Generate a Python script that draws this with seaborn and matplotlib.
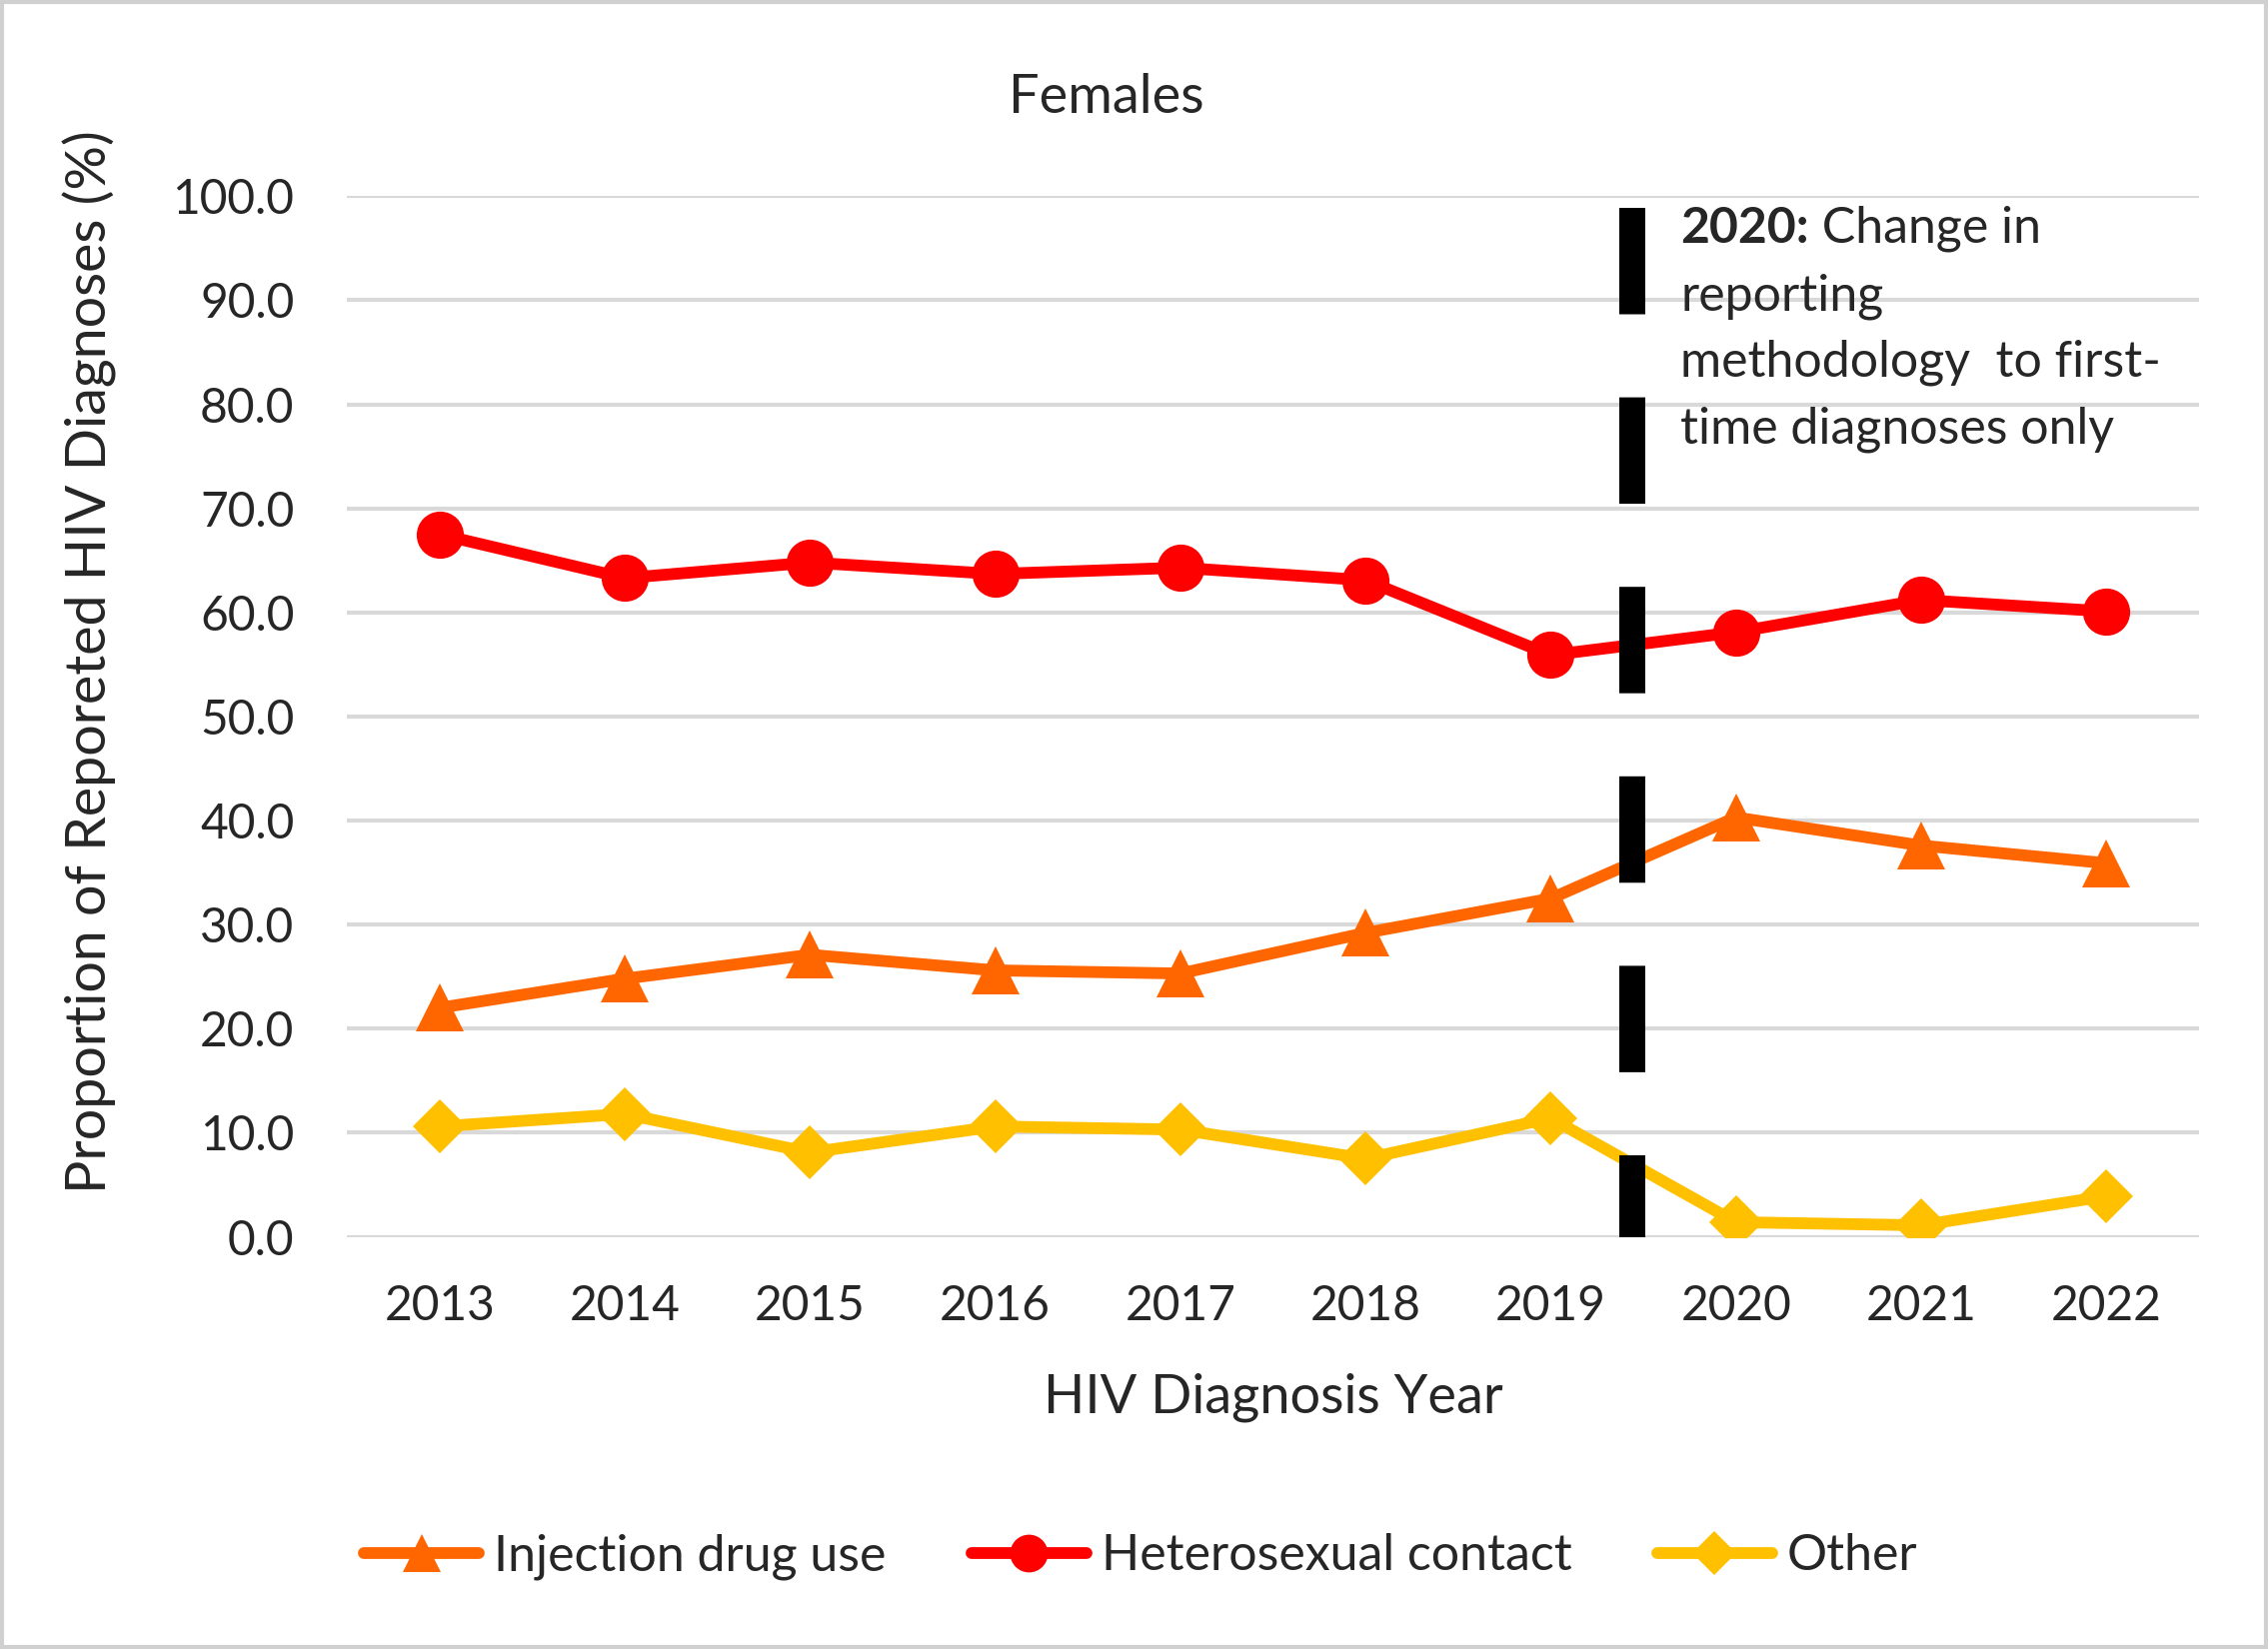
import numpy as np
import pandas as pd
import seaborn as sns
import matplotlib.pyplot as plt
from matplotlib.lines import Line2D
from matplotlib.patches import Rectangle

# data
years = [2013, 2014, 2015, 2016, 2017, 2018, 2019, 2020, 2021, 2022]
injection = [22.0, 24.8, 27.1, 25.6, 25.3, 29.2, 32.5, 40.3, 37.6, 35.9]
hetero = [67.5, 63.3, 64.8, 63.7, 64.3, 63.1, 55.9, 58.1, 61.2, 60.1]
other = [10.6, 11.8, 8.1, 10.6, 10.3, 7.5, 11.4, 1.4, 1.1, 3.9]

series = ['Injection drug use', 'Heterosexual contact', 'Other']
colors = {'Injection drug use': '#FF6600', 'Heterosexual contact': '#FF0000', 'Other': '#FFC000'}
markers = {'Injection drug use': '^', 'Heterosexual contact': 'o', 'Other': 'D'}
msizes = {'Injection drug use': 34, 'Heterosexual contact': 34, 'Other': 28}

df = pd.DataFrame({'YEAR': years * 3,
                   'PCT': injection + hetero + other,
                   'GROUP': np.repeat(series, len(years))})

sns.set_style("white")
plt.rcParams['font.family'] = ['Lato', 'DejaVu Sans']

fig = plt.figure(figsize=(22.69, 16.5), dpi=100)
ax = fig.add_axes([0.153, 0.250, 0.8165, 0.631])

# gridlines
ax.set_axisbelow(True)
ax.grid(axis='y', color='#d9d9d9', linewidth=3)
ax.grid(axis='x', visible=False)

for g in series:
    sub = df[df['GROUP'] == g]
    sns.lineplot(data=sub, x='YEAR', y='PCT', ax=ax, color=colors[g],
                 marker=markers[g], markersize=msizes[g], markeredgewidth=0,
                 linewidth=8.5, legend=False)

# reporting change line
ax.plot([2019.44, 2019.44], [98.9, 0], color='black', linewidth=18.7,
        linestyle=(0, (4.1, 3.2)), solid_capstyle='butt', zorder=5)

fs = 36
t = ax.text(2019.70, 96.9, '2020:', fontsize=fs, fontweight='bold', va='center', ha='left')
ax.annotate(' Change in', xy=(1, 0.5), xycoords=t, fontsize=fs, va='center', ha='left')
ax.text(2019.70, 90.4, 'reporting', fontsize=fs, va='center', ha='left')
ax.text(2019.70, 84.0, 'methodology  to first-', fontsize=fs, va='center', ha='left')
ax.text(2019.70, 77.6, 'time diagnoses only', fontsize=fs, va='center', ha='left')

ax.set_xlim(2012.5, 2022.5)
ax.set_ylim(0, 100)
ax.set_xticks(years)
ax.set_yticks(np.arange(0, 101, 10))
ax.set_yticklabels(['%.1f' % v for v in np.arange(0, 101, 10)])
ax.tick_params(axis='both', length=0, labelsize=34.5)
ax.tick_params(axis='y', pad=38)
ax.tick_params(axis='x', pad=34)
sns.despine(ax=ax, left=True, bottom=True)

ax.set_xlabel('HIV Diagnosis Year', fontsize=39, labelpad=32)
ax.set_ylabel('Proportion of Reporeted HIV Diagnoses (%)', fontsize=40, va='center')
ax.yaxis.set_label_coords(-0.139, 0.553)
fig.text(0.488, 0.941, 'Females', fontsize=39, ha='center', va='center')

handles = [Line2D([0], [0], color=colors[g], marker=markers[g], markersize=msizes[g] * 0.8,
                  markeredgewidth=0, linewidth=8.5) for g in series]
fig.legend(handles, series, loc='center', bbox_to_anchor=(0.503, 0.056), ncol=3,
           frameon=False, fontsize=fs, handlelength=2.3, handletextpad=0.3, columnspacing=1.7)

# figure border
fig.patches.append(Rectangle((0.001, 0.001), 0.998, 0.998, transform=fig.transFigure,
                             fill=False, edgecolor='#d0d0d0', linewidth=3))

fig.savefig('out.png', dpi=100)
